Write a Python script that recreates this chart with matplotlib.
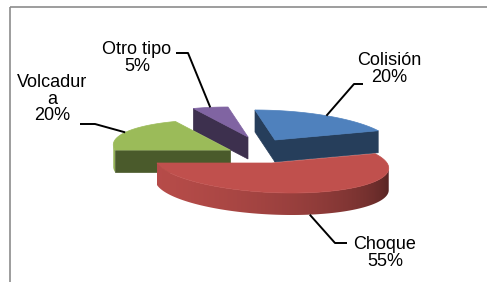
import numpy as np
import matplotlib
matplotlib.use('Agg')
import matplotlib.pyplot as plt
from matplotlib.patches import Polygon
import matplotlib.colors as mcolors

# ---- data ----
categories = ['Colisión', 'Choque', 'Volcadura', 'Otro tipo']
values = [20, 55, 20, 5]
label_texts = ['Colisión\n20%', 'Choque\n55%', 'Volcadur\na\n20%', 'Otro tipo\n5%']
colors = ['#4F81BD', '#C0504D', '#9BBB59', '#8064A2']

# ---- layout (pixels) ----
W, H = 487, 282
RX, RY, SHEAR, DEPTH = 115, 30, 20, 22
START_ANGLE = 90
apex_pos = [(275, 140), (272, 163), (230, 150), (248, 137)]
label_pos = [(389, 69), (385, 253), (52, 99), (137, 58)]
elbow_pts = [[(363, 84), (354, 84)], [(347, 243), (335, 243)],
             [(80, 124), (95, 124)], [(176, 53), (188, 53)]]
anchor_on_bottom = [False, True, False, False]

fig = plt.figure(figsize=(W / 100, H / 100), dpi=100)
ax = fig.add_axes([0, 0, 1, 1])
ax.set_xlim(0, W)
ax.set_ylim(H, 0)
ax.axis('off')

# border (gray frame going off right/bottom)
ax.plot([10, W + 5], [7, 7], color='#8c8c8c', lw=1.2, solid_capstyle='butt')
ax.plot([10, 10], [7, H + 5], color='#8c8c8c', lw=1.2, solid_capstyle='butt')


def P(A, th, r=1.0):
    t = np.deg2rad(th)
    return np.array([A[0] + r * (RX * np.cos(t) - SHEAR * np.sin(t)),
                     A[1] - r * RY * np.sin(t)])


def shade(c, f):
    rgb = np.array(mcolors.to_rgb(c))
    return tuple(np.clip(rgb * f, 0, 1))


def side_factor(th):
    thn = np.mod(th, 360)
    x = np.clip((thn - 180) / 170.0, 0, 1)
    return 0.95 - 0.55 * x ** 2


total = float(sum(values))
cum = 0.0
slices = []
for i, v in enumerate(values):
    a_end = START_ANGLE - cum / total * 360
    cum += v
    a_start = START_ANGLE - cum / total * 360
    slices.append((a_start, a_end))

order = sorted(range(len(values)), key=lambda i: apex_pos[i][1])
down = np.array([0, DEPTH])

for i in order:
    a1, a2 = slices[i]
    A = np.array(apex_pos[i], float)
    col = colors[i]
    mid = (a1 + a2) / 2
    Mv = P(A, mid) - A
    # radial faces
    for th in (a1, a2):
        B = P(A, th)
        E = B - A
        n = np.array([E[1], -E[0]])
        if np.dot(n, Mv) > 0:
            n = -n
        if n[1] > 0:
            fc = shade(col, 0.48)
            ax.add_patch(Polygon([A, B, B + down, A + down], closed=True,
                                 facecolor=fc, edgecolor=fc, lw=0.5, zorder=2))
    # curved side: find visible theta runs
    ths = np.linspace(a1, a2, 721)
    vis = []
    for k in range(len(ths) - 1):
        p0, p1 = P(A, ths[k]), P(A, ths[k + 1])
        T = p1 - p0
        n = np.array([T[1], -T[0]])
        if np.dot(n, (p0 + p1) / 2 - A) < 0:
            n = -n
        vis.append(n[1] > 0)
    runs = []
    k = 0
    while k < len(vis):
        if vis[k]:
            s = k
            while k < len(vis) and vis[k]:
                k += 1
            runs.append((ths[s], ths[k]))
        else:
            k += 1
    for (t0, t1) in runs:
        tt = np.linspace(t0, t1, 300)
        top = np.array([P(A, t) for t in tt])
        bot = top + down
        poly = np.vstack([top, bot[::-1]])
        patch = Polygon(poly, closed=True, facecolor='none', edgecolor='none',
                        zorder=2)
        ax.add_patch(patch)
        xs = top[:, 0]
        srt = np.argsort(xs)
        x0, x1 = xs.min(), xs.max()
        y0, y1 = poly[:, 1].min(), poly[:, 1].max()
        ncol = 400
        xg = np.linspace(x0, x1, ncol)
        thg = np.interp(xg, xs[srt], tt[srt])
        f = side_factor(thg)
        rgb = np.array(mcolors.to_rgb(col))
        img = np.clip(rgb[None, None, :] * f[None, :, None], 0, 1)
        img = np.repeat(img, 2, axis=0)
        im = ax.imshow(img, extent=(x0 - 1, x1 + 1, y1 + 1, y0 - 1),
                       aspect='auto', interpolation='bilinear', zorder=2)
        im.set_clip_path(patch)
    # top face
    arc = [P(A, t) for t in np.linspace(a1, a2, 200)]
    ax.add_patch(Polygon([A] + arc, closed=True, facecolor=col,
                         edgecolor=col, lw=0.5, zorder=3))

ax.set_xlim(0, W)
ax.set_ylim(H, 0)

# labels and leader lines
for i in range(len(values)):
    a1, a2 = slices[i]
    A = np.array(apex_pos[i], float)
    anc = P(A, (a1 + a2) / 2)
    if anchor_on_bottom[i]:
        anc = anc + down
    pts = elbow_pts[i] + [tuple(anc)]
    ax.plot([p[0] for p in pts], [p[1] for p in pts], color='black', lw=1.4,
            zorder=5, solid_capstyle='butt')
    ax.text(label_pos[i][0], label_pos[i][1], label_texts[i], ha='center',
            va='center', fontsize=13, family='Liberation Sans',
            linespacing=0.95, color='black', zorder=6)

fig.savefig('out.png', dpi=100)
